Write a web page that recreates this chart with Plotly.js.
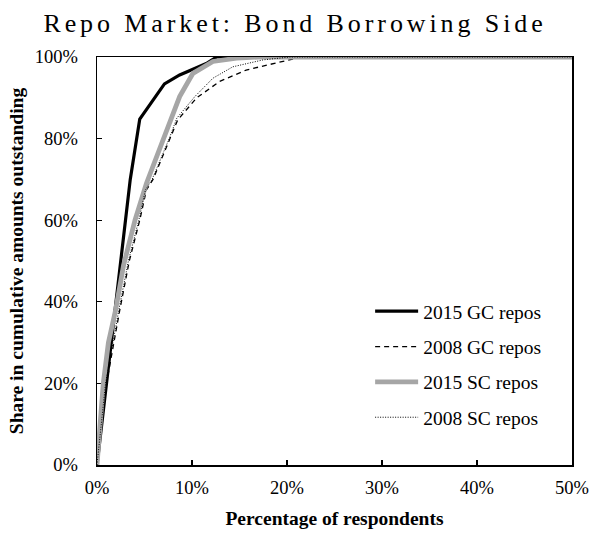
<!DOCTYPE html>
<html>
<head>
<meta charset="utf-8">
<script src="https://cdn.plot.ly/plotly-3.0.1.min.js"></script>
<style>html,body{margin:0;padding:0;background:#fff;}#chart{width:590px;height:533px;}</style>
</head>
<body>
<div id="chart"></div>
<script>
// Percentage of respondents (x, %) and share in cumulative amounts outstanding (y, %)
const gc2015X = [0, 1.0, 1.9, 3.0, 3.5, 4.5, 7.1, 8.7, 11.5, 12.6, 50];
const gc2015Y = [0, 20, 38, 60, 70, 84.8, 93.4, 95.6, 98.4, 100, 100];

const gc2008X = [0, 1.0, 2.4, 3.4, 4.5, 5.2, 5.9, 7.7, 8.5, 10.5, 12.9, 15.7, 18.5, 20.6, 22, 50];
const gc2008Y = [0, 20, 38, 50, 60, 67.4, 70, 80, 84.6, 90, 94, 96.8, 98.4, 99.5, 100, 100];

const sc2015X = [0, 0.66, 1.2, 1.96, 2.8, 4.0, 5.2, 7.0, 8.7, 10.1, 12.2, 14.7, 17, 50];
const sc2015Y = [0, 20, 30, 38, 49, 60, 69, 80, 90.3, 96, 98.9, 99.7, 100, 100];

const sc2008X = [0, 0.9, 2.3, 3.3, 4.4, 5.1, 5.8, 7.6, 8.4, 10.3, 12.2, 14.3, 17.5, 20.3, 50];
const sc2008Y = [0, 20, 38, 50, 60, 67.4, 70, 80, 85, 90.3, 94.8, 97.6, 99.3, 100, 100];

const seriesNames = ["2015 GC repos", "2008 GC repos", "2015 SC repos", "2008 SC repos"];
const xTickVals = [0, 10, 20, 30, 40, 50];
const xTickText = ["0%", "10%", "20%", "30%", "40%", "50%"];
const yTickVals = [0, 20, 40, 60, 80, 100];
const yTickText = ["0%", "20%", "40%", "60%", "80%", "100%"];

const FONT = "Liberation Serif, Times New Roman, serif";

const traces = [
  {x: gc2015X, y: gc2015Y, name: seriesNames[0], legendgroup: "a", mode: "lines",
   line: {color: "#000000", width: 3.2}},
  {x: gc2008X, y: gc2008Y, name: seriesNames[1], legendgroup: "b", mode: "lines",
   line: {color: "#000000", width: 1.3, dash: "5px,4px"}},
  {x: sc2015X, y: sc2015Y, name: seriesNames[2], legendgroup: "c", mode: "lines",
   line: {color: "#a6a6a6", width: 4.8}},
  {x: sc2008X, y: sc2008Y, name: seriesNames[3], legendgroup: "d", mode: "lines",
   line: {color: "#000000", width: 1, dash: "1px,1.5px"}}
];

const layout = {
  width: 590, height: 533,
  margin: {l: 97, r: 18, t: 57, b: 68, pad: 0},
  paper_bgcolor: "#ffffff", plot_bgcolor: "#ffffff",
  font: {family: FONT, size: 18.5, color: "#000000"},
  title: {
    text: '<span style="letter-spacing:3.9px">Repo Market: Bond Borrowing Side</span>',
    font: {family: FONT, size: 26, color: "#000000"},
    x: 0.5, xref: "container", xanchor: "center",
    y: 0.957, yref: "container", yanchor: "middle"
  },
  xaxis: {
    range: [0, 50], tickvals: xTickVals, ticktext: xTickText,
    ticks: "inside", ticklen: 5, tickwidth: 1.3, tickcolor: "#000",
    showline: true, linecolor: "#000", linewidth: 1.5, mirror: true,
    showgrid: false, zeroline: false, layer: "below traces",
    ticklabelstandoff: 5,
    tickfont: {family: FONT, size: 18.5, color: "#000"},
    title: {text: "<b>Percentage of respondents</b>", font: {family: FONT, size: 19.5, color: "#000"}, standoff: 14},
    fixedrange: true
  },
  yaxis: {
    range: [0, 100], tickvals: yTickVals, ticktext: yTickText,
    ticks: "inside", ticklen: 5, tickwidth: 1.3, tickcolor: "#000",
    showline: true, linecolor: "#000", linewidth: 1.5, mirror: true,
    showgrid: false, zeroline: false, layer: "below traces",
    ticklabelstandoff: 14,
    tickfont: {family: FONT, size: 18.5, color: "#000"},
    title: {text: "<b>Share in cumulative amounts outstanding</b>", font: {family: FONT, size: 19.5, color: "#000"}, standoff: 6},
    fixedrange: true
  },
  showlegend: true,
  legend: {
    x: 0.575, xref: "paper", xanchor: "left",
    y: 0.424, yref: "paper", yanchor: "top",
    bgcolor: "rgba(0,0,0,0)", borderwidth: 0,
    font: {family: FONT, size: 19.5, color: "#000"},
    traceorder: "grouped", tracegroupgap: 7, itemwidth: 43
  }
};

Plotly.newPlot("chart", traces, layout, {staticPlot: true, displayModeBar: false});
</script>
</body>
</html>
